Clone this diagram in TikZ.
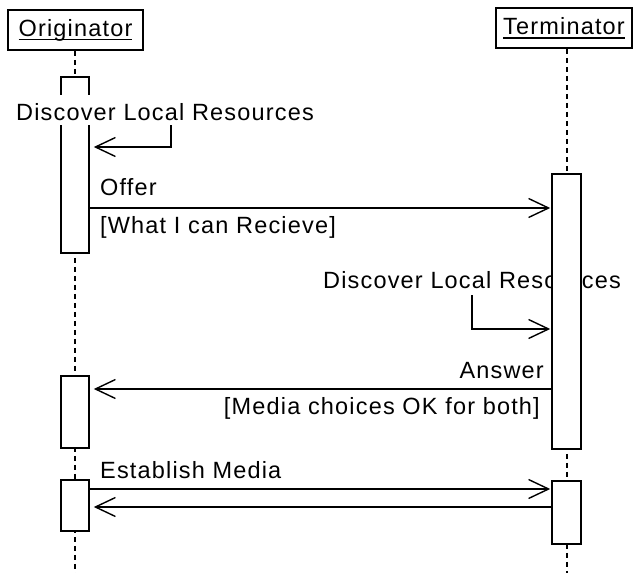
\documentclass[tikz,border=0pt]{standalone}
\usepackage{fontspec}
\setmainfont{Liberation Sans}[LetterSpace=5]
\usetikzlibrary{arrows.meta}

\newlength\ulwidth
\newcommand\ultext[1]{\settowidth\ulwidth{#1}\rlap{\rule[-4pt]{\ulwidth}{1.4pt}}#1}

\tikzset{
  every node/.style={font=\fontsize{23.5}{28}\selectfont},
  head/.style={draw, line width=1.6pt, fill=white, inner sep=0pt,
               minimum height=40pt},
  lifeline/.style={line width=2pt, dash pattern=on 5pt off 4pt},
  actbar/.style={draw, line width=1.6pt, fill=white, inner sep=0pt,
                 minimum width=28pt},
  msg/.style={line width=1.4pt,
              -{Straight Barb[length=20pt,width=19pt]}},
  lbl/.style={inner sep=0pt},
}

\begin{document}
\begin{tikzpicture}[x=1pt,y=-1pt]
\useasboundingbox (0,0) rectangle (633,573);

% participants
\node[head, minimum width=135pt] (orig) at (75.5,30) {\ultext{Originator}};
\node[head, minimum width=136pt] (term) at (564,28) {\ultext{Terminator}};

% lifelines
\coordinate (origEnd) at (75,573);
\coordinate (termEnd) at (566.5,573);
\draw[lifeline] (orig.south -| origEnd) -- (origEnd);
\draw[lifeline] (term.south -| termEnd) -- (termEnd);

% terminator's local step text lies behind its activation bar
\node[lbl, anchor=base west, text depth=7pt] (selfT) at (323,288) {Discover Local Resources};

% activation bars
\node[actbar, minimum height=176pt] (ob1) at (75,165) {};
\node[actbar, minimum width=29pt, minimum height=275pt] (tb1) at (566.5,311.5) {};
\node[actbar, minimum height=72pt] (ob2) at (75,412) {};
\node[actbar, minimum height=51pt] (ob3) at (75,505.5) {};
\node[actbar, minimum width=29pt, minimum height=63pt] (tb2) at (566.5,512.5) {};

% originator's local step, drawn over its bar
\node[lbl, anchor=base west, fill=white, text height=25pt, text depth=5pt]
  (selfO) at (16,120) {Discover Local Resources};
\draw[msg] (selfO.south -| 171,0) |- ([xshift=4pt]ob1.east |- 0,147);

% offer
\draw[msg] (ob1.east |- 0,208) -- ([xshift=-1pt]tb1.west |- 0,208);
\node[lbl, anchor=base west] (offer) at (100,195) {Offer};
\node[lbl, anchor=base west] (offerG) at (100,233) {[What I can Recieve]};

% terminator discovers its resources
\draw[msg] (selfT.south -| 472,0) |- ([xshift=-1pt]tb1.west |- 0,329);

% answer
\draw[msg] (tb1.west |- 0,389) -- ([xshift=4pt]ob2.east |- 0,389);
\node[lbl, anchor=base east] (answer) at (544,378) {Answer};
\node[lbl, anchor=base east] (answerG) at (540,414) {[Media choices OK for both]};

% establish media
\draw[msg] (ob3.east |- 0,489) -- ([xshift=-1pt]tb2.west |- 0,489);
\draw[msg] (tb2.west |- 0,507) -- ([xshift=4pt]ob3.east |- 0,507);
\node[lbl, anchor=base west] (media) at (100,478) {Establish Media};
\end{tikzpicture}
\end{document}
